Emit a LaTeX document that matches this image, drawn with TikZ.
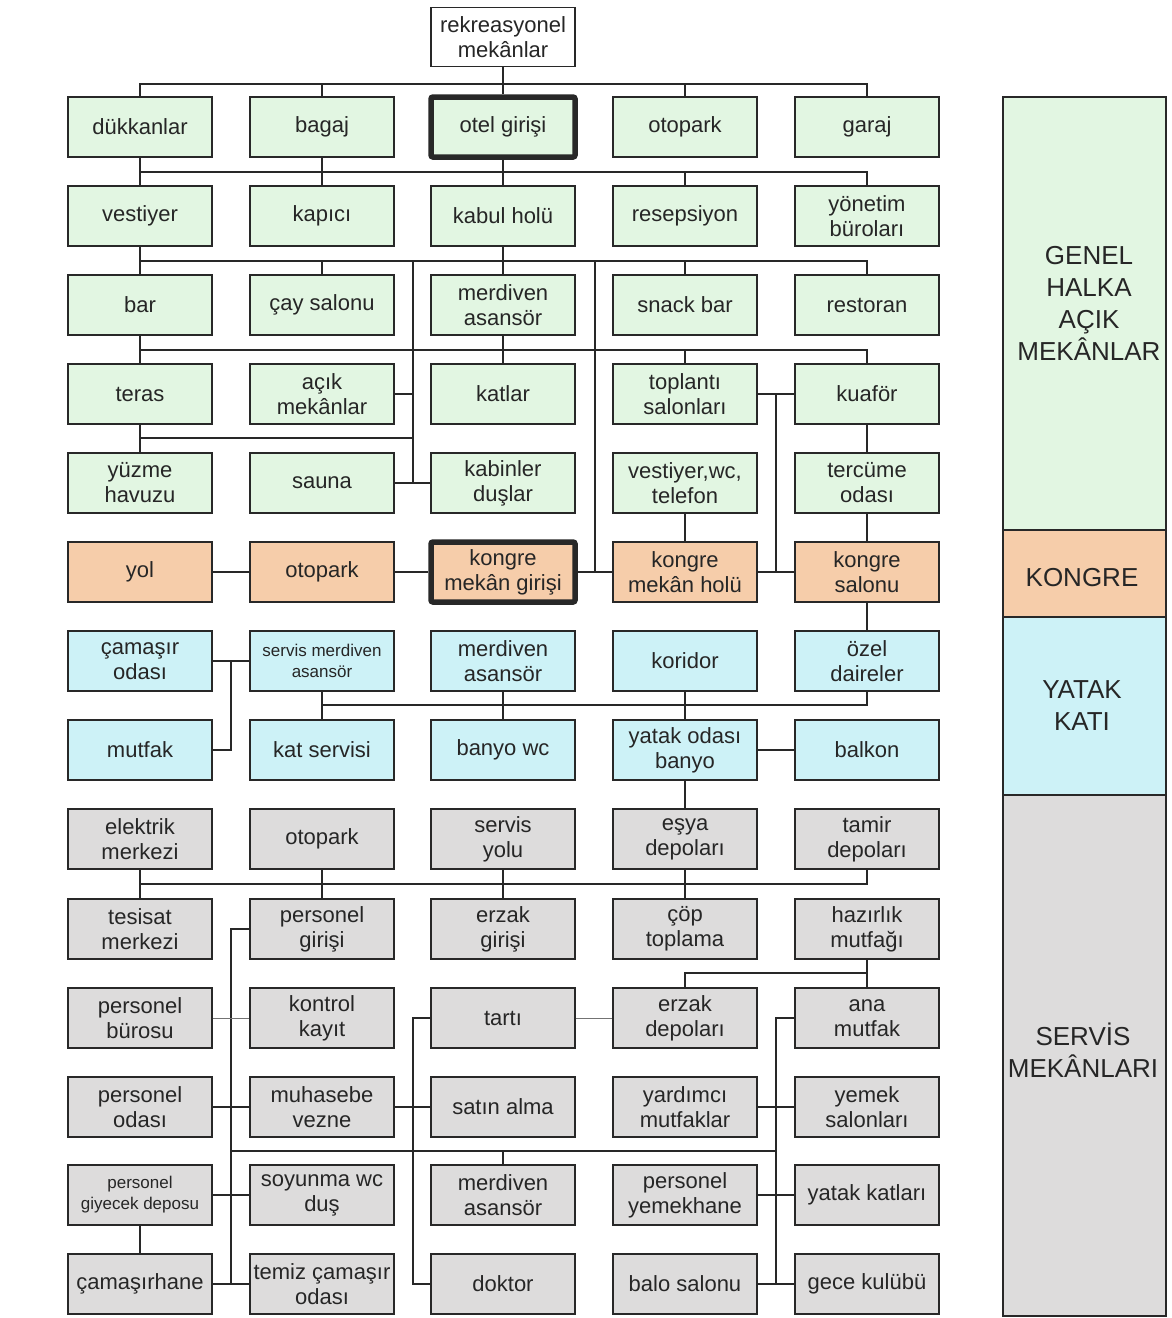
\documentclass[tikz,border=0pt]{standalone}
\usepackage{fontspec}
\setmainfont{Liberation Sans}
\definecolor{genel}{RGB}{226,246,226}
\definecolor{kongre}{RGB}{246,205,170}
\definecolor{yatak}{RGB}{205,242,247}
\definecolor{servis}{RGB}{221,220,220}
\definecolor{cizgi}{RGB}{40,40,40}
\tikzset{
  kutu/.style={draw=cizgi, line width=1.3pt, minimum width=144pt, minimum height=60pt,
    inner sep=0pt, align=center, text=black!85, font=\fontsize{22}{25}\selectfont},
  gk/.style={kutu, fill=genel},
  kk/.style={kutu, fill=kongre},
  yk/.style={kutu, fill=yatak},
  sk/.style={kutu, fill=servis},
  kalin/.style={line width=5.5pt, rounded corners=2pt},
  kucuk/.style={font=\fontsize{17}{21}\selectfont},
  bant/.style={draw=cizgi, line width=1.3pt},
  bantyazi/.style={align=center, text=black!85, font=\fontsize{26}{32}\selectfont},
  hat/.style={draw=cizgi, line width=1.3pt},
  ince/.style={draw=black!55, line width=0.8pt}
}
\begin{document}
\begin{tikzpicture}[x=1pt,y=-1pt]
\useasboundingbox (0,0) rectangle (1171,1318);
%bands
\draw[bant,fill=genel] (1003,97) rectangle (1166,530);
\draw[bant,fill=kongre] (1003,530) rectangle (1166,617);
\draw[bant,fill=yatak] (1003,617) rectangle (1166,795);
\draw[bant,fill=servis] (1003,795) rectangle (1166,1316);
\node[bantyazi] (genelyazi) at (1089,303) {GENEL\\HALKA\\AÇIK\\MEKÂNLAR};
\node[bantyazi] (kongreyazi) at (1082,578) {KONGRE};
\node[bantyazi] (yatakyazi) at (1082,706) {YATAK\\KATI};
\node[bantyazi] (servisyazi) at (1083,1050) {SERVİS\\MEKÂNLARI};
%boxes
\node[kutu,fill=white,minimum height=59pt] (rek) at (503,37) {rekreasyonel\\mekânlar};
\node[gk] (dukkan) at (140,127) {dükkanlar};
\node[gk] (bagaj) at (322,127) {bagaj};
\node[gk,kalin] (otelgiris) at (503,127) {otel girişi};
\node[gk] (otopark1) at (685,127) {otopark};
\node[gk] (garaj) at (867,127) {garaj};
\node[gk] (vestiyer) at (140,216) {vestiyer};
\node[gk] (kapici) at (322,216) {kapıcı};
\node[gk] (kabul) at (503,216) {kabul holü};
\node[gk] (resepsiyon) at (685,216) {resepsiyon};
\node[gk] (yonetim) at (867,216) {yönetim\\büroları};
\node[gk] (bar) at (140,305) {bar};
\node[gk] (cay) at (322,305) {çay salonu};
\node[gk] (merdiven1) at (503,305) {merdiven\\asansör};
\node[gk] (snack) at (685,305) {snack bar};
\node[gk] (restoran) at (867,305) {restoran};
\node[gk] (teras) at (140,394) {teras};
\node[gk] (acik) at (322,394) {açık\\mekânlar};
\node[gk] (katlar) at (503,394) {katlar};
\node[gk] (toplanti) at (685,394) {toplantı\\salonları};
\node[gk] (kuafor) at (867,394) {kuaför};
\node[gk] (yuzme) at (140,483) {yüzme\\havuzu};
\node[gk] (sauna) at (322,483) {sauna};
\node[gk] (kabin) at (503,483) {kabinler\\duşlar};
\node[gk] (vestwc) at (685,483) {vestiyer,wc,\\telefon};
\node[gk] (tercume) at (867,483) {tercüme\\odası};
\node[kk] (yol) at (140,572) {yol};
\node[kk] (otopark2) at (322,572) {otopark};
\node[kk,kalin] (kgiris) at (503,572) {kongre\\mekân girişi};
\node[kk] (kholu) at (685,572) {kongre\\mekân holü};
\node[kk] (ksalon) at (867,572) {kongre\\salonu};
\node[yk] (camasir) at (140,661) {çamaşır\\odası};
\node[yk,kucuk] (smerdiven) at (322,661) {servis merdiven\\asansör};
\node[yk] (merdiven2) at (503,661) {merdiven\\asansör};
\node[yk] (koridor) at (685,661) {koridor};
\node[yk] (ozel) at (867,661) {özel\\daireler};
\node[yk] (mutfak) at (140,750) {mutfak};
\node[yk] (katservis) at (322,750) {kat servisi};
\node[yk] (banyo) at (503,750) {banyo wc};
\node[yk] (yatakoda) at (685,750) {yatak odası\\banyo};
\node[yk] (balkon) at (867,750) {balkon};
\node[sk] (elektrik) at (140,839) {elektrik\\merkezi};
\node[sk] (otopark3) at (322,839) {otopark};
\node[sk] (servisyol) at (503,839) {servis\\yolu};
\node[sk] (esya) at (685,839) {eşya\\depoları};
\node[sk] (tamir) at (867,839) {tamir\\depoları};
\node[sk] (tesisat) at (140,929) {tesisat\\merkezi};
\node[sk] (pgiris) at (322,929) {personel\\girişi};
\node[sk] (egiris) at (503,929) {erzak\\girişi};
\node[sk] (cop) at (685,929) {çöp\\toplama};
\node[sk] (hazirlik) at (867,929) {hazırlık\\mutfağı};
\node[sk] (pburo) at (140,1018) {personel\\bürosu};
\node[sk] (kontrol) at (322,1018) {kontrol\\kayıt};
\node[sk] (tarti) at (503,1018) {tartı};
\node[sk] (edepo) at (685,1018) {erzak\\depoları};
\node[sk] (anamutfak) at (867,1018) {ana\\mutfak};
\node[sk] (poda) at (140,1107) {personel\\odası};
\node[sk] (muhasebe) at (322,1107) {muhasebe\\vezne};
\node[sk] (satin) at (503,1107) {satın alma};
\node[sk] (yardimci) at (685,1107) {yardımcı\\mutfaklar};
\node[sk] (yemek) at (867,1107) {yemek\\salonları};
\node[sk,kucuk] (giyecek) at (140,1195) {personel\\giyecek deposu};
\node[sk] (soyunma) at (322,1195) {soyunma wc\\duş};
\node[sk] (merdiven3) at (503,1195) {merdiven\\asansör};
\node[sk] (pyemek) at (685,1195) {personel\\yemekhane};
\node[sk] (ykatlar) at (867,1195) {yatak katları};
\node[sk] (camasirhane) at (140,1284) {çamaşırhane};
\node[sk] (temiz) at (322,1284) {temiz çamaşır\\odası};
\node[sk] (doktor) at (503,1284) {doktor};
\node[sk] (balo) at (685,1284) {balo salonu};
\node[sk] (gece) at (867,1284) {gece kulübü};
%bus heights and spines
\coordinate (b1) at (0,84);
\coordinate (b2) at (0,172);
\coordinate (b3) at (0,261);
\coordinate (b4) at (0,350);
\coordinate (b5) at (0,438);
\coordinate (b6) at (0,705);
\coordinate (b7) at (0,884);
\coordinate (b8) at (0,973);
\coordinate (b9) at (0,1151);
\coordinate (s1) at (231,0);
\coordinate (s2) at (413,0);
\coordinate (s3) at (595,0);
\coordinate (s4) at (776,0);
\begin{scope}[hat]
%genel
\draw (rek) -- (otelgiris);
\draw (dukkan.north) -- (dukkan.north |- b1) -- (garaj.north |- b1) -- (garaj.north);
\foreach \n in {bagaj,otopark1}
    \draw (\n.north) -- (\n.north |- b1);
\draw (vestiyer.north |- b2) -- (yonetim.north |- b2) -- (yonetim.north);
\draw (dukkan) -- (vestiyer);
\draw (bagaj) -- (kapici);
\draw (otelgiris) -- (kabul);
\draw (resepsiyon.north) -- (resepsiyon.north |- b2);
\draw (bar.north |- b3) -- (restoran.north |- b3) -- (restoran.north);
\draw (vestiyer) -- (bar);
\draw (kabul) -- (merdiven1);
\foreach \n in {cay,snack}
    \draw (\n.north) -- (\n.north |- b3);
\draw (s2 |- b3) -- (s2 |- sauna.east);
\draw (s3 |- b3) -- (s3 |- kgiris.east);
\draw (acik.east) -- (s2 |- acik.east);
\draw (sauna) -- (kabin);
\draw (teras.north |- b4) -- (kuafor.north |- b4) -- (kuafor.north);
\draw (bar) -- (teras);
\draw (merdiven1) -- (katlar);
\draw (toplanti.north) -- (toplanti.north |- b4);
\draw (teras) -- (yuzme);
\draw (teras.south |- b5) -- (s2 |- b5);
\draw (toplanti) -- (kuafor);
\draw (s4 |- toplanti.east) -- (s4 |- ksalon.west);
\draw (kuafor) -- (tercume) -- (ksalon);
\draw (vestwc) -- (kholu);
%kongre
\draw (yol) -- (otopark2) -- (kgiris) -- (kholu) -- (ksalon);
\draw (ksalon) -- (ozel);
%yatak
\draw (camasir) -- (smerdiven);
\draw (s1 |- camasir.east) -- (s1 |- mutfak.east) -- (mutfak.east);
\draw (smerdiven.south |- b6) -- (ozel.south |- b6) -- (ozel.south);
\draw (smerdiven) -- (katservis);
\draw (merdiven2) -- (banyo);
\draw (koridor) -- (yatakoda) -- (balkon);
\draw (yatakoda) -- (esya);
%servis
\draw (elektrik.south |- b7) -- (tamir.south |- b7) -- (tamir.south);
\draw (elektrik) -- (tesisat);
\draw (otopark3) -- (pgiris);
\draw (servisyol) -- (egiris);
\draw (esya) -- (cop);
\draw (edepo.north) -- (edepo.north |- b8) -- (hazirlik.south |- b8);
\draw (hazirlik) -- (anamutfak);
\draw (pgiris.west) -- (s1 |- pgiris.west) -- (s1 |- camasirhane.east);
\draw (poda) -- (muhasebe) -- (satin);
\draw (giyecek) -- (soyunma);
\draw (giyecek) -- (camasirhane) -- (temiz);
\draw (tarti.west) -- (s2 |- tarti.west) -- (s2 |- doktor.west) -- (doktor.west);
\draw (anamutfak.west) -- (s4 |- anamutfak.west) -- (s4 |- gece.west);
\draw (yardimci) -- (yemek);
\draw (pyemek) -- (ykatlar);
\draw (balo) -- (gece);
\draw (s1 |- b9) -- (s4 |- b9);
\draw (merdiven3.north) -- (merdiven3.north |- b9);
\end{scope}
\draw[ince] (pburo) -- (kontrol);
\draw[ince] (tarti) -- (edepo);
\end{tikzpicture}
\end{document}
